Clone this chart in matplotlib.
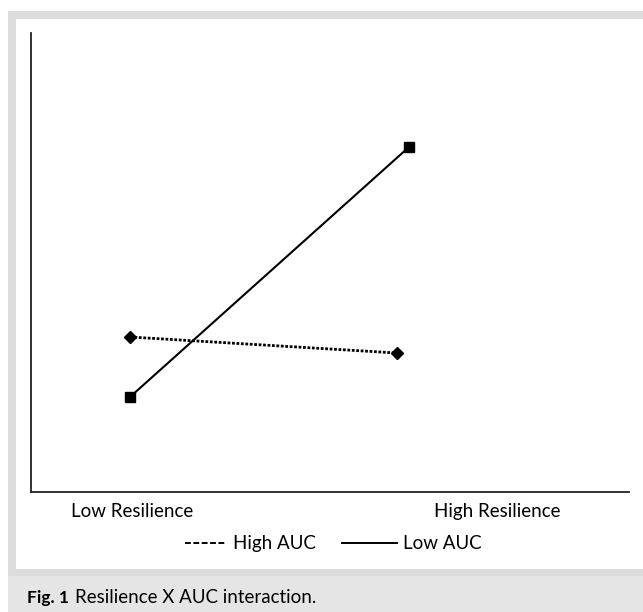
import matplotlib
matplotlib.use("Agg")
import matplotlib.pyplot as plt
from matplotlib.patches import Rectangle
from matplotlib.lines import Line2D

plt.rcParams['font.family'] = ['Lato', 'Open Sans', 'DejaVu Sans']

# Data (arbitrary units)
series_names = ["High AUC", "Low AUC"]
high_auc_x = [1.0, 1.957]
high_auc_y = [1.55, 1.39]
low_auc_x = [1.0, 2.0]
low_auc_y = [0.95, 3.45]
tick_labels = ["Low Resilience", "High Resilience"]
tick_pos = [1.007, 2.315]
caption_label = "Fig. 1"
caption_text = "Resilience X AUC interaction."

W, H = 643, 612
FS = 13.5
fig = plt.figure(figsize=(W / 100, H / 100), dpi=100)
fig.patch.set_facecolor("white")

def fx(p):
    return p / W

def fy(p):
    return 1 - p / H

def px_rect(x0, y0, x1, y1, color):
    fig.patches.append(Rectangle((fx(x0), fy(y1)), (x1 - x0) / W, (y1 - y0) / H,
                                 transform=fig.transFigure, facecolor=color,
                                 edgecolor="none", zorder=-10))

px_rect(8, 11, W, 576, "#dcdcdc")
px_rect(16, 19, W, 569, "white")
px_rect(8, 576, W, H, "#e5e5e5")

# axes: x 31..629, y 33..492
ax = fig.add_axes([fx(31), fy(492), (629 - 31) / W, (492 - 33) / H])
ax.set_facecolor("none")
ax.set_xlim(1 - 99 / 279, 1 + 499 / 279)
ax.set_ylim(0, 4.59)

ax.plot(high_auc_x, high_auc_y, color="black", linestyle=(0, (1, 0.6)), linewidth=2.0,
        marker="D", markersize=6.5, zorder=3)
ax.plot(low_auc_x, low_auc_y, color="black", linestyle="-", linewidth=1.5,
        marker="s", markersize=6.5, zorder=3)

for s in ["top", "right"]:
    ax.spines[s].set_visible(False)
for s in ["left", "bottom"]:
    ax.spines[s].set_linewidth(1.3)
    ax.spines[s].set_color("#222222")
ax.set_yticks([])
ax.set_xticks(tick_pos)
ax.set_xticklabels(tick_labels, fontsize=FS)
ax.tick_params(axis="x", length=0, pad=8)

# legend drawn by hand to match the two different handle lengths
lb = fy(549)
ll = fy(543)
fig.lines.append(Line2D([fx(185), fx(226)], [ll, ll], transform=fig.transFigure,
                        color="black", linewidth=1.4, linestyle=(0, (3.0, 1.3))))
fig.text(fx(233), lb, series_names[0], fontsize=FS, va="baseline", ha="left")
fig.lines.append(Line2D([fx(342), fx(397)], [ll, ll], transform=fig.transFigure,
                        color="black", linewidth=1.4, linestyle="-"))
fig.text(fx(403), lb, series_names[1], fontsize=FS, va="baseline", ha="left")

cb = fy(603)
fig.text(fx(27), cb, caption_label, fontsize=12.5, fontweight="bold", va="baseline", ha="left")
fig.text(fx(75), cb, caption_text, fontsize=FS, va="baseline", ha="left")

fig.savefig("out.png", dpi=100)
